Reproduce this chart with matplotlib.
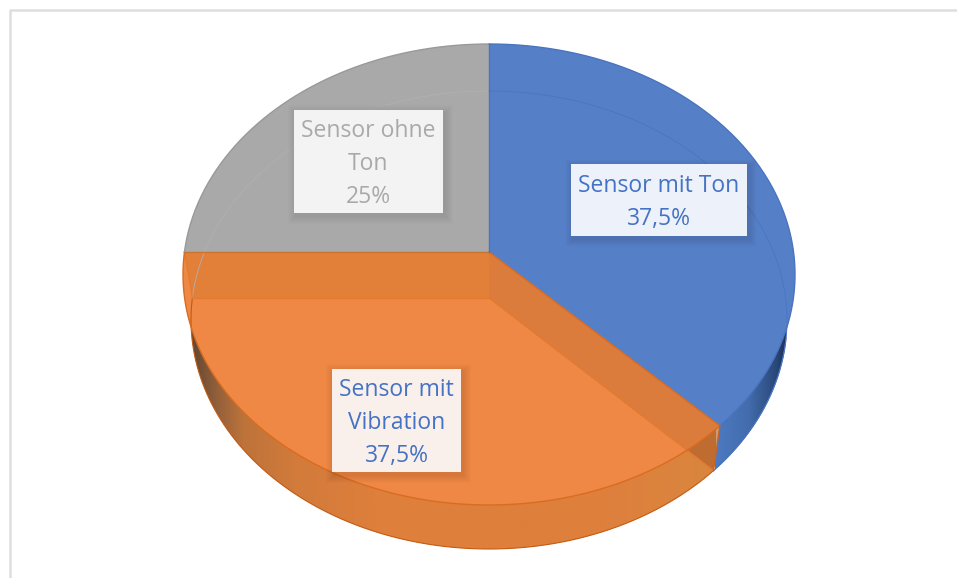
import numpy as np
import matplotlib
matplotlib.use('Agg')
import matplotlib.pyplot as plt
from matplotlib.colors import LinearSegmentedColormap
from matplotlib.patches import Polygon, Rectangle

plt.rcParams['font.family'] = ['Open Sans', 'DejaVu Sans']

names = ['Sensor mit\u00a0Ton', 'Sensor mit\nVibration', 'Sensor ohne\nTon']
shares = [37.5, 37.5, 25.0]
top_colors = ['#5580C8', '#EE8844', '#A9A9A9']
edge_colors = ['#4A74BE', '#D96C20', '#999999']
text_colors = ['#4472C4', '#4472C4', '#A9A9A9']
box_colors = ['#EDF1F9', '#FAF0EB', '#F3F3F3']
# left, top, right, bottom of the label boxes in pixels
boxes = [(571, 164, 747, 236), (332, 369, 461, 472), (294, 110, 443, 213)]

# ellipse of the top face and of the bottom face
top_apex = (489, 252)
top_c = (489, 274.5)
top_r = (306, 230.5)
bot_apex = (489, 298)
bot_c = (489, 320)
bot_r = (298, 229)


def rim(apex, c, r, a):
    # ray from the apex to the ellipse, a = clock angle in degrees
    a = np.radians(a)
    dx = r[0] * np.sin(a)
    dy = -r[1] * np.cos(a)
    ox = (apex[0] - c[0]) / r[0]
    oy = (apex[1] - c[1]) / r[1]
    ux = dx / r[0]
    uy = dy / r[1]
    qa = ux ** 2 + uy ** 2
    qb = 2 * (ox * ux + oy * uy)
    qc = ox ** 2 + oy ** 2 - 1
    t = (-qb + np.sqrt(qb ** 2 - 4 * qa * qc)) / (2 * qa)
    return apex[0] + t * dx, apex[1] + t * dy


def arc(apex, c, r, a0, a1):
    ang = np.linspace(a0, a1, 200)
    x, y = rim(apex, c, r, ang)
    return np.column_stack([x, y])


def wedge(apex, c, r, a0, a1):
    return np.vstack([[apex], arc(apex, c, r, a0, a1)])


def gradient(ax, stops, x0, x1, clip):
    cmap = LinearSegmentedColormap.from_list('wall', stops)
    im = ax.imshow(np.linspace(0, 1, 512)[None, :], cmap=cmap, aspect='auto',
                   extent=(x0, x1, 578, 0), zorder=1)
    im.set_clip_path(clip)


fig = plt.figure(figsize=(9.57, 5.78), dpi=100)
ax = fig.add_axes([0, 0, 1, 1])

edges = np.concatenate([[0], np.cumsum(shares)]) * 3.6
corner_top = rim(top_apex, top_c, top_r, edges[1])
corner_bot = rim(bot_apex, bot_c, bot_r, edges[1])

# side walls, both reach up to the corner on the top face
blue_wall = Polygon(np.vstack([wedge(bot_apex, bot_c, bot_r, edges[0], edges[1]), [corner_top]]),
                    transform=ax.transData)
orange_wall = Polygon(np.vstack([[bot_apex], [corner_top], arc(bot_apex, bot_c, bot_r, edges[1], edges[2])]),
                      transform=ax.transData)
gradient(ax, [(0, '#4D7AC2'), (0.45, '#426CAC'), (0.8, '#2B4A7C'), (1, '#18294A')], 715, 790, blue_wall)
gradient(ax, [(0, '#5F4632'), (0.05, '#93603A'), (0.1, '#BD733A'), (0.2, '#D27B3B'),
              (0.35, '#DE7F3C'), (0.8, '#DE803D'), (1, '#D9863F')], 190, 716, orange_wall)

inner_right = np.vstack([[top_apex], [corner_top], [corner_bot], [bot_apex]])
inner_left = np.vstack([[top_apex], [rim(top_apex, top_c, top_r, edges[2])],
                        [rim(bot_apex, bot_c, bot_r, edges[2])], [bot_apex]])

# part of the inner wall outside the top face, hidden by the faces elsewhere
ax.add_patch(Polygon(inner_right, closed=True, fc='#A85A2A', ec='none', alpha=0.45, zorder=1.5))

# top faces
for i in range(3):
    ax.add_patch(Polygon(wedge(top_apex, top_c, top_r, edges[i], edges[i + 1]),
                         closed=True, fc=top_colors[i], ec='none', zorder=2))

# orange slice is see-through, its inner walls show
ax.add_patch(Polygon(inner_left, closed=True, fc='#E27F38', ec='none', zorder=3))
ax.add_patch(Polygon(inner_right, closed=True, fc='#B5622A', ec='none', alpha=0.3, zorder=3))
ax.plot(inner_left[[3, 2], 0], inner_left[[3, 2], 1], color='#E57A2E', lw=1, zorder=4)
ax.plot(inner_right[[3, 2], 0], inner_right[[3, 2], 1], color='#E27A30', lw=1, zorder=4)
ax.plot(inner_left[[1, 2], 0], inner_left[[1, 2], 1], color='#E57A2E', lw=0.8, zorder=4)

# faint rim of the bottom face seen through the top
ax.plot(*arc(bot_apex, bot_c, bot_r, 0, edges[1]).T, color='#4B76C2', lw=0.7, zorder=3)
ax.plot(*arc(bot_apex, bot_c, bot_r, edges[2], 360).T, color='#B0B0B0', lw=0.6, zorder=3)

# slice outlines
for i in range(3):
    a0, a1 = edges[i], edges[i + 1]
    ax.plot(*arc(top_apex, top_c, top_r, a0, a1).T, color=edge_colors[i], lw=1, zorder=5)
ax.plot([top_apex[0], corner_top[0]], [top_apex[1], corner_top[1]], color='#D96C20', lw=1, zorder=5)
ax.plot([top_apex[0], inner_left[1, 0]], [top_apex[1], inner_left[1, 1]], color='#C9752F', lw=1, zorder=5)
ax.plot([top_apex[0], top_apex[0]], [top_apex[1], 44], color='#4A74BE', lw=1, zorder=5)
ax.plot([corner_top[0], corner_bot[0]], [corner_top[1], corner_bot[1]], color='#C8641E', lw=1, zorder=5)
ax.plot(*arc(bot_apex, bot_c, bot_r, edges[1], edges[2]).T, color='#C55A11', lw=0.8, zorder=2)
ax.plot(*arc(bot_apex, bot_c, bot_r, 100, edges[1]).T, color='#3F68AE', lw=0.8, zorder=2)

# labels with soft shadow
for i in range(3):
    x0, y0, x1, y1 = boxes[i]
    for grow in range(8, 0, -1):
        ax.add_patch(Rectangle((x0 - grow + 2, y0 - grow + 3), x1 - x0 + 2 * grow, y1 - y0 + 2 * grow,
                               fc='black', ec='none', alpha=0.012, zorder=6))
    ax.add_patch(Rectangle((x0, y0), x1 - x0, y1 - y0, fc=box_colors[i], ec='none', zorder=7))
    value = f'{shares[i]:g}'.replace('.', ',') + '%'
    ax.text((x0 + x1) / 2, (y0 + y1) / 2 + 2.5, names[i] + '\n' + value, ha='center', va='center',
            color=text_colors[i], fontsize=16.5, linespacing=1.49, zorder=8)

# chart frame
ax.plot([9.5, 9.5, 957], [578, 9.5, 9.5], color='#DEDEDE', lw=1.8, zorder=9)

ax.set_xlim(0, 957)
ax.set_ylim(578, 0)
ax.axis('off')
fig.savefig('out.png', dpi=100)
